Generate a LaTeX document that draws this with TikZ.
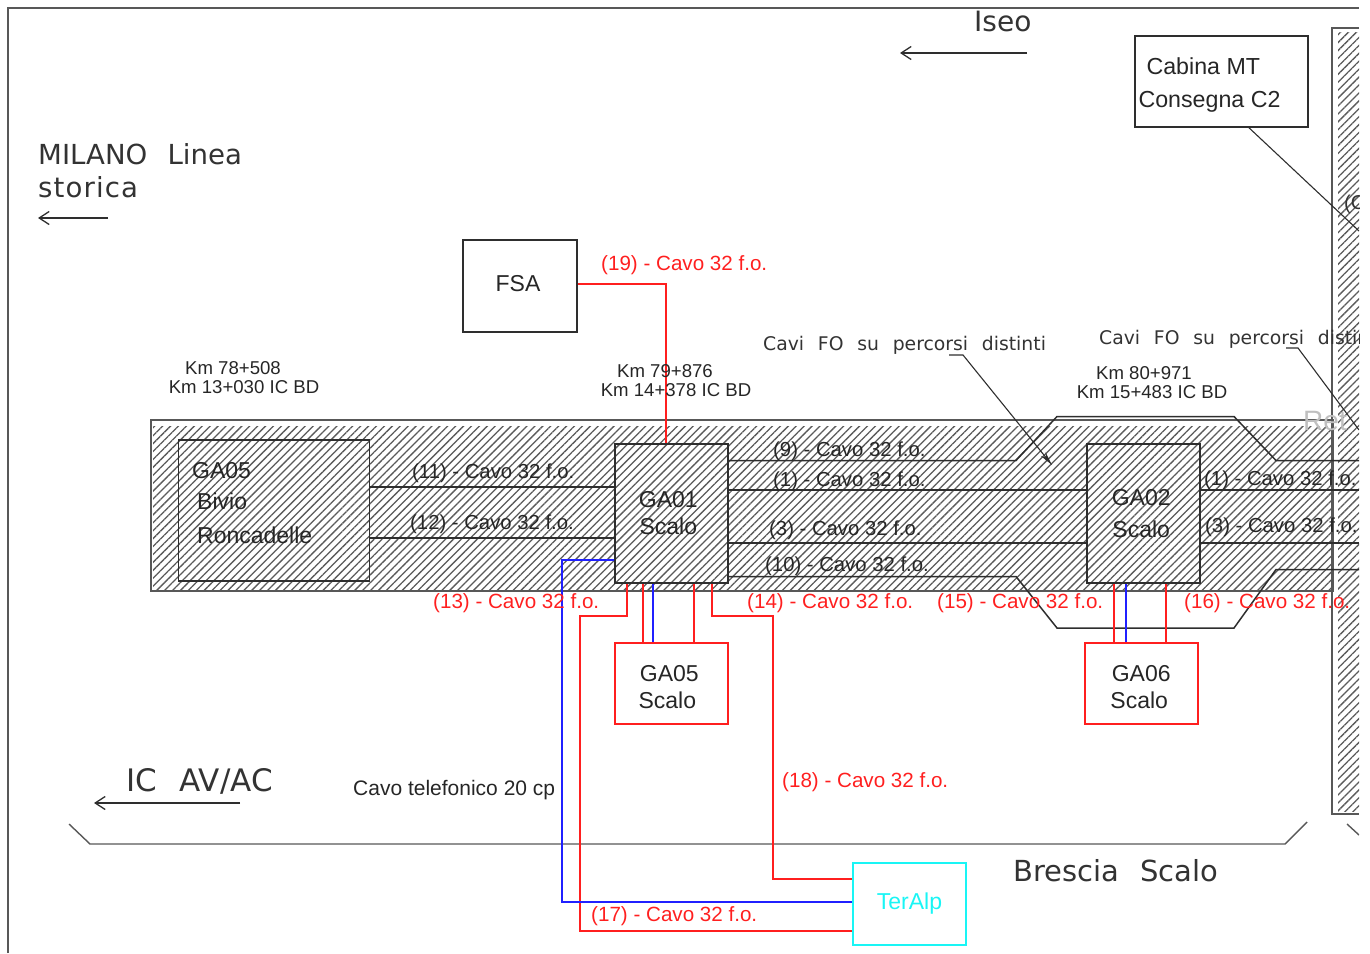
\documentclass[tikz,border=0pt]{standalone}
\usepackage{fontspec}
\setmainfont{Liberation Sans}
\newfontfamily\cadfont[WordSpace=2.3]{DejaVu Sans}
\usepackage{tikz}
\usetikzlibrary{arrows.meta,positioning,patterns.meta}
\definecolor{cablered}{HTML}{FF1F1F}
\definecolor{cableblue}{HTML}{2020FF}
\definecolor{teralpcyan}{HTML}{19F5F5}
\definecolor{linegray}{HTML}{2E2E2E}
\definecolor{hatchgray}{HTML}{5A5A5A}
\newcommand{\fs}[1]{\fontsize{#1}{#1}\selectfont}
\tikzset{
  hatch/.style={pattern={Lines[angle=45,distance=5.6pt,line width=1.3pt]},pattern color=hatchgray},
  wall/.style={draw=linegray!80,line width=1.4pt},
  gabox/.style={draw=linegray,line width=1.6pt,align=center,inner sep=0pt,text=black!85,font={\fontsize{23}{27}\selectfont}},
  redbox/.style={gabox,draw=cablered,line width=1.8pt},
  cablecut/.style={draw=linegray,line width=1.5pt},
  redcable/.style={draw=cablered,line width=2pt},
  bluecable/.style={draw=cableblue,line width=2pt},
  leader/.style={draw=linegray,line width=1.1pt},
  backarrow/.style={draw=linegray,line width=1.3pt,-{Straight Barb[length=10pt,width=13pt]}},
  cavolabel/.style={anchor=west,inner sep=0pt,font=\fs{20.3},text=black!85},
  cavored/.style={cavolabel,text=cablered,font=\fs{20.6}},
  kmlabel/.style={align=center,inner sep=0pt,font={\fontsize{18.6}{19}\selectfont},text=black!85},
  cadlabel/.style={anchor=west,inner sep=0pt,align=left,font={\cadfont\fontsize{29}{33}\selectfont},text=black!80},
}
\begin{document}
\begin{tikzpicture}[x=1pt,y=-1pt,node distance=58pt]
  \useasboundingbox (0,0) rectangle (1370,953);
  \begin{scope}
    \clip (0,0) rectangle (1359,953);
    % frame, band and right strip
    \draw[wall] (8,953)--(8,8)--(1359,8);
    \fill[hatch] (153,426) rectangle (1331,589);
    \draw[wall] (151,420) rectangle (1333,591);
    \fill[hatch] (1338,32) rectangle (1359,811);
    \draw[wall] (1359,28)--(1332,28)--(1332,814)--(1359,814);
    \draw[wall] (69,824)--(90,844)--(1285,844)--(1307,822);
    \draw[wall] (1347,824)--(1359,835);
    % stations
    \node[gabox,minimum width=191pt,minimum height=141pt] (bivio) at (274,510.5) {};
    \node[cadlabel,text=black!85,font={\fontsize{23}{31}\selectfont}] (biviotxt) at (192,503.5) {GA05\\\hspace*{5pt}Bivio\\[3pt]\hspace*{5pt}Roncadelle};
    \node[gabox,minimum width=113pt,minimum height=139pt] (ga01) at (671.3,513.5) {GA01\hspace*{6pt}\\Scalo\hspace*{6pt}};
    \node[gabox,minimum width=113pt,minimum height=139pt] (ga02) at (1143.2,513.5) {GA02\hspace*{4pt}\\[5pt]Scalo\hspace*{4pt}};
    \node[redbox,minimum width=113pt,minimum height=81pt,below=of ga01] (scalo05) {\rule{0pt}{24pt}GA05\hspace*{4pt}\\Scalo\hspace*{8pt}};
    \node[redbox,minimum width=113pt,minimum height=81pt,below=of ga02,xshift=-2pt] (scalo06) {\rule{0pt}{24pt}GA06\\Scalo\hspace*{4pt}};
    \node[gabox,minimum width=114pt,minimum height=92pt] (fsa) at (520,286) {FSA\hspace*{4pt}\rule[-5pt]{0pt}{5pt}};
    \node[gabox,draw=teralpcyan,text=teralpcyan,line width=1.8pt,minimum width=113pt,minimum height=82pt] (teralp) at (909.5,904) {TerAlp};
    \node[gabox,align=left,minimum width=173pt,minimum height=91pt,font={\fontsize{23.2}{33}\selectfont}] (cabina) at (1221.5,81.5) {\rule{0pt}{23.5pt}\hspace*{8pt}Cabina MT\\Consegna C2\hspace*{24pt}};
    % fibre routes inside the band
    \coordinate (topr) at (1359,460.5);
    \coordinate (midr) at (1359,490);
    \coordinate (lowr) at (1359,543);
    \coordinate (botr) at (1359,569.5);
    \draw[cablecut] (bivio.east |- 0,487)--(ga01.west |- 0,487);
    \draw[cablecut] (bivio.east |- 0,538)--(ga01.west |- 0,538);
    \draw[cablecut] (ga01.east |- 0,460.5)--(1016,460.5)--(1057,416.5)--(1234,416.5)--(1276,460.5)--(topr);
    \draw[cablecut] (ga01.east |- 0,490)--(ga02.west |- 0,490);
    \draw[cablecut] (ga02.east |- 0,490)--(midr);
    \draw[cablecut] (ga01.east |- 0,543)--(ga02.west |- 0,543);
    \draw[cablecut] (ga02.east |- 0,543)--(lowr);
    \draw[cablecut] (ga01.east |- 0,576.5)--(1016,576.5)--(1057,628)--(1234,628)--(1276,569.5)--(botr);
    % cables
    \draw[redcable] (fsa.east |- 0,284)-|(ga01.north -| 666,0);
    \draw[redcable] (ga01.south -| 627,0)--(627,616)--(580,616)--(580,931)--(teralp.west |- 0,931);
    \draw[redcable] (ga01.south -| 712,0)--(712,616)--(773,616)--(773,879)--(teralp.west |- 0,879);
    \draw[bluecable] (ga01.west |- 0,560)--(562,560)--(562,902)--(teralp.west |- 0,902);
    \draw[redcable] (ga01.south -| 643,0)--(scalo05.north -| 643,0);
    \draw[bluecable] (ga01.south -| 653,0)--(scalo05.north -| 653,0);
    \draw[redcable] (ga01.south -| 694,0)--(scalo05.north -| 694,0);
    \draw[redcable] (ga02.south -| 1114,0)--(scalo06.north -| 1114,0);
    \draw[bluecable] (ga02.south -| 1126,0)--(scalo06.north -| 1126,0);
    \draw[redcable] (ga02.south -| 1166,0)--(scalo06.north -| 1166,0);
    % leaders
    \coordinate (cabinaend) at (1359,231);
    \coordinate (fo1start) at (949,355);
    \coordinate (fo1tip) at (1052,465);
    \coordinate (fo2start) at (1286,348);
    \coordinate (fo2end) at (1359,430);
    \draw[leader] (cabina.south -| 1249,0)--(cabinaend);
    \draw[leader,-{Stealth[length=14pt,width=6pt]}] (fo1start)--(963,355)--(fo1tip);
    \draw[leader] (fo2start)--(1298,348)--(fo2end);
    % direction arrows
    \coordinate (milanoa) at (108,218);
    \coordinate (milanob) at (38,218);
    \coordinate (iseoa) at (1027,53);
    \coordinate (iseob) at (900,53);
    \coordinate (avaca) at (240,803);
    \coordinate (avacb) at (94,803);
    \draw[backarrow] (milanoa)--(milanob);
    \draw[backarrow] (iseoa)--(iseob);
    \draw[backarrow] (avaca)--(avacb);
    % cad lettering
    \node[cadlabel,font={\cadfont\fontsize{27.6}{33}\selectfont}] (milano) at (38,170.5) {MILANO Linea\\{\addfontfeature{LetterSpace=4}storica}};
    \node[cadlabel,font={\cadfont\fs{28}}] (iseo) at (974,21) {Iseo};
    \node[cadlabel,font={\cadfont\fs{31}}] (avac) at (126,781) {IC AV/AC};
    \node[cadlabel] (brescia) at (1013,871) {Brescia Scalo};
    \node[cadlabel,font={\cadfont\fs{18.8}}] (fo1) at (763,345.5) {Cavi FO su percorsi distinti};
    \node[cadlabel,font={\cadfont\fs{18.8}}] (fo2) at (1099,339.5) {Cavi FO su percorsi distinti};
    \node[cadlabel,text=black!25,font=\fs{28}] (rete) at (1303,421) {Ret};
    \node[cadlabel,font=\fs{20}] (stripc) at (1344,204) {(C};
    % kilometre marks
    \node[kmlabel] (km1) at (244,377.5) {Km 78+508\hspace*{22pt}\\Km 13+030 IC BD};
    \node[kmlabel] (km2) at (676,380.5) {Km 79+876\hspace*{22pt}\\Km 14+378 IC BD};
    \node[kmlabel] (km3) at (1152,383) {Km 80+971\hspace*{16pt}\\Km 15+483 IC BD};
    % cable labels
    \node[cavolabel] (c11) at (412,473.5) {(11) - Cavo 32 f.o.};
    \node[cavolabel] (c12) at (410,524.5) {(12) - Cavo 32 f.o.};
    \node[cavolabel] (c9) at (773,451.5) {(9) - Cavo 32 f.o.};
    \node[cavolabel] (c1) at (773,481.5) {(1) - Cavo 32 f.o.};
    \node[cavolabel] (c3) at (769,530.5) {(3) - Cavo 32 f.o.};
    \node[cavolabel] (c10) at (765,566.5) {(10) - Cavo 32 f.o.};
    \node[cavolabel] (c1b) at (1204,480.5) {(1) - Cavo 32 f.o.};
    \node[cavolabel] (c3b) at (1205,527.5) {(3) - Cavo 32 f.o.};
    \node[cavolabel,font=\fs{21}] (tel) at (353,790.5) {Cavo telefonico 20 cp};
    \node[cavored] (c19) at (601,265.5) {(19) - Cavo 32 f.o.};
    \node[cavored] (c13) at (433,603) {(13) - Cavo 32 f.o.};
    \node[cavored] (c14) at (747,603) {(14) - Cavo 32 f.o.};
    \node[cavored] (c15) at (937,603) {(15) - Cavo 32 f.o.};
    \node[cavored] (c16) at (1184,603) {(16) - Cavo 32 f.o.};
    \node[cavored] (c18) at (782,782.5) {(18) - Cavo 32 f.o.};
    \node[cavored] (c17) at (591,916.5) {(17) - Cavo 32 f.o.};
  \end{scope}
\end{tikzpicture}
\end{document}
